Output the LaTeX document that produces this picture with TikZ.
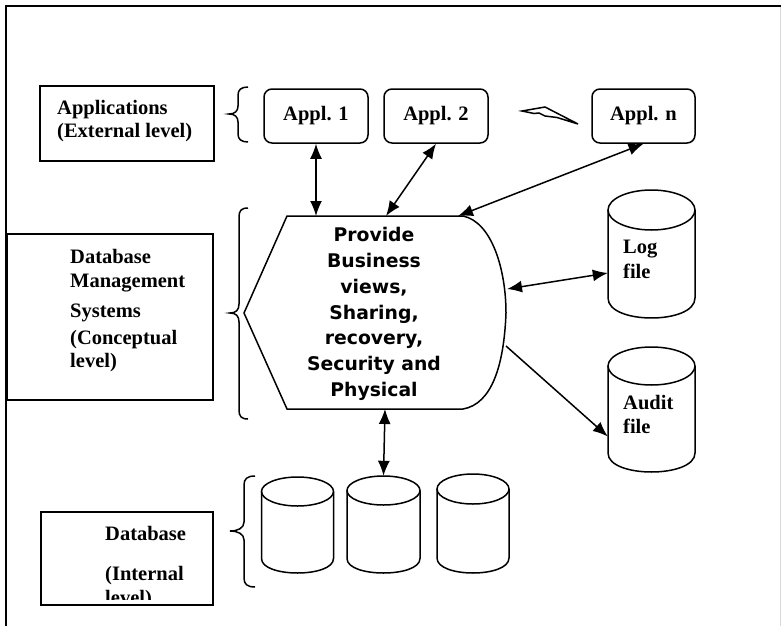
\documentclass[tikz,border=0pt]{standalone}
\usepackage{fontspec}
\setmainfont{Liberation Serif}
\newfontfamily\vfont{DejaVu Sans}
\usetikzlibrary{arrows.meta,calc}
\newcommand\mycyl[6]{% name, cx, ytop, ybot, rx, ry
  \node[inner sep=0pt, minimum width={2*#5pt}, minimum height={(#4-#3)*1pt}] (#1) at (#2,{(#3+#4)/2}) {};
  \draw[ln] (#2,{#3+#6}) ellipse[x radius=#5pt, y radius=#6pt];
  \draw[ln] ({#2-#5},{#3+#6}) -- ({#2-#5},{#4-#6}) .. controls ({#2-#5},{#4+0.333*#6}) and ({#2+#5},{#4+0.333*#6}) .. ({#2+#5},{#4-#6}) -- ({#2+#5},{#3+#6});
}
\begin{document}
\begin{tikzpicture}[x=1pt,y=-1pt,
  ln/.style={line width=1.5pt},
  box/.style={draw, line width=1.5pt, inner sep=0pt},
  lbl/.style={font=\bfseries\fontsize{20.5}{23.5}\selectfont, inner sep=0pt, anchor=base west},
  appl/.style={draw, line width=1.5pt, rounded corners=8pt, minimum height=54pt, inner sep=0pt, font=\bfseries\fontsize{20.5}{24}\selectfont},
  tip/.tip={Latex[length=15pt,width=12pt]},
  dbl/.style={tip-tip, line width=1.5pt},
  sgl/.style={-tip, line width=1.5pt}]
\useasboundingbox (0,0) rectangle (781,626);
% frame
\draw[line width=2pt] (5,6) -- (781,6);
\draw[line width=2pt] (6,5) -- (6,626);
\draw[gray!30, line width=0.8pt] (780,7) -- (780,626);

% Applications
\node[box, minimum width=174pt, minimum height=75pt] (appbox) at (127,123.5) {};
\node[lbl] (apptxt1) at (57,114) {Applications};
\node[lbl] (apptxt2) at (57,137) {(External level)};
\draw[ln] (248,87) .. controls (241,87) and (238,90) .. (238,95) -- (238,106) .. controls (238,111) and (235,114) .. (229,114) .. controls (235,114) and (238,117) .. (238,122) -- (238,134) .. controls (238,139) and (241,142) .. (248,142);

\node[appl, minimum width=104pt] (appl1) at (316,116) {Appl. 1};
\node[appl, minimum width=104pt] (appl2) at (436,116) {Appl. 2};
\node[appl, minimum width=103pt] (appln) at (643.5,116) {Appl. n};
\draw[line width=1.5pt, line join=miter, fill=white] (522,111) -- (545,107) -- (578,124) -- (557,117.5) -- (545,116) -- (539,113) -- (534,113.5) -- cycle;

% DBMS box
\node[box, minimum width=206pt, minimum height=166pt] (dbmsbox) at (110,317) {};
\node[lbl] (d1) at (70,263) {Database};
\node[lbl] (d2) at (70,287) {Management};
\node[lbl] (d3) at (70,317) {Systems};
\node[lbl] (d4) at (70,344) {(Conceptual};
\node[lbl] (d5) at (70,367) {level)};
\draw[ln] (248,208) .. controls (241,208) and (239,211) .. (239,217) -- (239,304) .. controls (239,310) and (236,313) .. (230,313) .. controls (236,313) and (239,316) .. (239,322) -- (239,410) .. controls (239,416) and (241,419) .. (248,419);

% core display shape
\draw[ln] (287,216) -- (463,216) .. controls (492,222) and (506,270) .. (506,313) .. controls (504,365) and (492,404) .. (463,409) -- (287,409) -- (244,313) -- cycle;
\node[align=center, inner sep=0pt, font=\vfont\bfseries\fontsize{18.8}{25.8}\selectfont] (core) at (374,314) {Provide\\Business\\views,\\Sharing,\\recovery,\\Security and\\Physical};
\coordinate (p1) at (316,216);
\coordinate (p2) at (386,216);
\coordinate (pn) at (458,216);
\coordinate (pl) at (507,289);
\coordinate (pa) at (506,346);
\coordinate (pb) at (385,409);

% Log / Audit cylinders
\mycyl{log}{651.5}{190}{318}{43.5}{20}
\node[lbl] (logt1) at (623,253) {Log};
\node[lbl] (logt2) at (623,278) {file};
\mycyl{audit}{651.5}{347}{472}{43.5}{19}
\node[lbl] (audt1) at (623,409) {Audit};
\node[lbl] (audt2) at (623,433) {file};

% Database cylinders
\mycyl{db1}{297.5}{477}{573}{36}{14.5}
\mycyl{db2}{383.5}{476}{573}{36.5}{14.5}
\mycyl{db3}{473}{474}{573}{36}{15}
\draw[ln] (255,476) .. controls (247,476) and (244,479) .. (244,485) -- (244,522) .. controls (244,528) and (238,531) .. (230,531) .. controls (238,531) and (244,534) .. (244,540) -- (244,578) .. controls (244,584) and (247,587) .. (255,587);

% Database box
\node[box, minimum width=172pt, minimum height=93pt] (dbbox) at (127,558.5) {};
\node[lbl] (b1) at (105,540) {Database};
\node[lbl] (b2) at (105,580) {(Internal};
\begin{scope}
\clip (42,513) rectangle (212,599);
\node[lbl] (b3) at (105,604) {level)};
\end{scope}

% connectors
\draw[dbl] (appl1.south) -- (p1);
\draw[dbl] (appl2.south) -- (p2);
\draw[dbl] (appln.south) -- (pn);
\draw[dbl] (pl) -- ([yshift=-19pt]log.west);
\draw[sgl] (pa) -- ([yshift=-27pt]audit.west);
\draw[dbl] (pb) -- (db2.north);
\end{tikzpicture}
\end{document}
